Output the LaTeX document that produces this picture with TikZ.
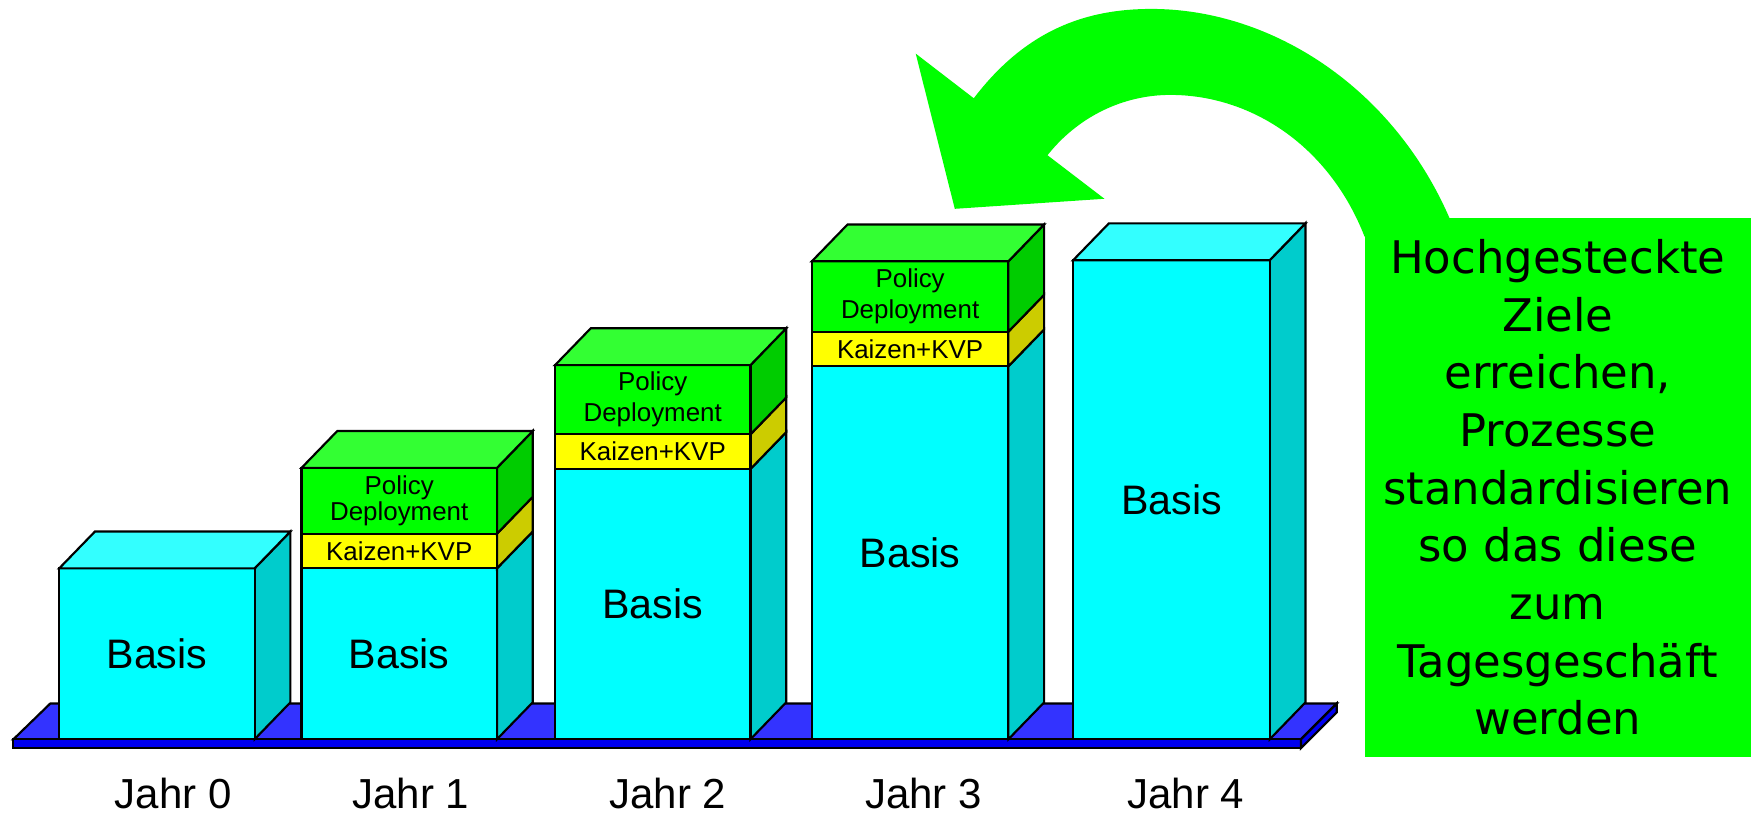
\documentclass[tikz,border=0pt]{standalone}
\usepackage{fontspec}
\setmainfont{Liberation Sans}
\newfontfamily\handfont{DejaVu Sans}

\definecolor{basisfront}{HTML}{00FFFF}
\definecolor{basisside}{HTML}{00CCCC}
\definecolor{basistop}{HTML}{33FFFF}
\definecolor{kaizenfront}{HTML}{FFFF00}
\definecolor{kaizenside}{HTML}{CCCC00}
\definecolor{policyfront}{HTML}{00FF00}
\definecolor{policyside}{HTML}{00CC00}
\definecolor{policytop}{HTML}{33FF33}
\definecolor{platetop}{HTML}{3333FF}
\definecolor{platefront}{HTML}{0000EE}
\definecolor{goalgreen}{HTML}{00FF00}

% front + side of one block: x0, x1, ytop, ybot, colour, name
\newcommand{\slab}[6]{%
  \filldraw[fill=#5side] (#2,#4) -- (#2+32,#4-33) -- (#2+32,#3-33) -- (#2,#3) -- cycle;
  \filldraw[fill=#5front] (#1,#3) rectangle (#2,#4);
  \coordinate (#6) at ({(#1+#2)/2},{(#3+#4)/2});
}
% top face: x0, x1, ytop, colour
\newcommand{\slabtop}[4]{%
  \filldraw[fill=#4top] (#1,#3) -- (#1+32,#3-33) -- (#2+32,#3-33) -- (#2,#3) -- cycle;
}

\begin{document}
\begin{tikzpicture}[x=0.02cm,y=-0.02cm,line width=1.1pt,
    basis/.style={font=\fontsize{21}{24}\selectfont},
    small/.style={font=\fontsize{13.2}{13.6}\selectfont,align=center},
    wide/.style={small,font=\fontsize{13.2}{15.8}\selectfont},
    year/.style={inner sep=0pt,font=\fontsize{21.4}{24}\selectfont},
    goal/.style={fill=goalgreen,inner sep=0pt,minimum width=6.92cm,minimum height=9.66cm,
      align=center,font=\handfont\fontsize{22.9}{29.4}\selectfont}]

    \useasboundingbox (0,0) rectangle (1568,733);

    % platform
    \filldraw[fill=platetop] (12,662) -- (45,630) -- (1197,630) -- (1165,662) -- cycle;
    \filldraw[fill=platefront] (12,662) rectangle (1165,670);
    \filldraw[fill=platefront] (1165,662) -- (1197,630) -- (1197,638) -- (1165,670) -- cycle;

    % Jahr 0
    \slab{53}{228}{509}{662}{basis}{b0}
    \slabtop{53}{228}{509}{basis}

    % Jahr 1
    \slab{270}{445}{509}{662}{basis}{b1}
    \slab{270}{445}{478}{509}{kaizen}{k1}
    \slab{270}{445}{419}{478}{policy}{p1}
    \slabtop{270}{445}{419}{policy}

    % Jahr 2
    \slab{497}{672}{420}{662}{basis}{b2}
    \slab{497}{672}{389}{420}{kaizen}{k2}
    \slab{497}{672}{327}{389}{policy}{p2}
    \slabtop{497}{672}{327}{policy}

    % Jahr 3
    \slab{727}{903}{328}{662}{basis}{b3}
    \slab{727}{903}{297}{328}{kaizen}{k3}
    \slab{727}{903}{234}{297}{policy}{p3}
    \slabtop{727}{903}{234}{policy}

    % Jahr 4
    \slab{961}{1137}{233}{662}{basis}{b4}
    \slabtop{961}{1137}{233}{basis}

    \node[basis] (tb0) at (b0) {Basis};
    \node[basis] (tb1) at (b1) {Basis};
    \node[basis] (tb2) at (b2) {Basis};
    \node[basis] (tb3) at (b3) {Basis};
    \node[basis] (tb4) at (b4) {Basis};

    \node[small] (tk1) at (k1) {Kaizen+KVP};
    \node[small] (tk2) at (k2) {Kaizen+KVP};
    \node[small] (tk3) at (k3) {Kaizen+KVP};
    \node[small] (tp1) at (p1) {Policy\\Deployment};
    \node[wide] (tp2) at (p2) {Policy\\Deployment};
    \node[wide] (tp3) at (p3) {Policy\\Deployment};

    \foreach \x/\n in {155/0,368/1,598/2,827/3,1062/4}
        \node[year] (j\n) at (\x,711) {Jahr \n};

    % big arrow back
    \fill[goalgreen] (1222,212) .. controls (1190,130) and (1120,85) .. (1048,85)
        .. controls (1005,85) and (965,105) .. (938,139) -- (989,178) -- (855,187)
        -- (820,48) -- (872,88) .. controls (920,25) and (975,8) .. (1031,8)
        .. controls (1140,8) and (1250,80) .. (1300,200) -- cycle;

    \node[goal] (ziel) at (1395,436.5) {Hochgesteckte\\Ziele\\erreichen,\\Prozesse\\standardisieren\\so das diese\\zum\\Tagesgeschäft\\werden};

\end{tikzpicture}
\end{document}
